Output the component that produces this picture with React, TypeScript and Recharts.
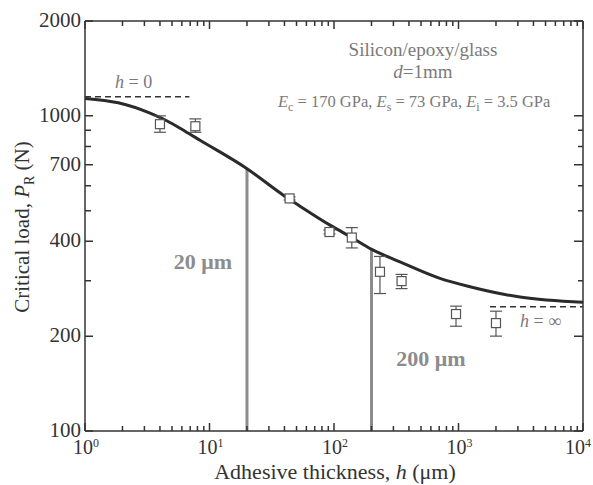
import React from 'react';
import {
  ComposedChart,
  Line,
  Scatter,
  ErrorBar,
  XAxis,
  YAxis,
  ReferenceLine,
} from 'recharts';

// thickness h (um) / critical load P (N)
const curveH = [1, 1.85, 3.33, 4.53, 6.36, 8.39, 19.9, 39.2, 53.3, 92.9, 139, 201, 339, 709, 1236, 3120, 10000];
const curveP = [1136, 1100, 1020, 965, 894, 837, 681, 560, 517, 450, 411, 377, 344, 305, 287, 266, 256];

const expH = [4.0, 7.7, 44, 92, 139, 234, 349, 955, 2000];
const expP = [941, 927, 547, 428, 411, 320, 299, 235, 220];
const expErrDown = [54, 40, 6, 6, 30, 47, 16, 20, 20];
const expErrUp = [59, 51, 6, 6, 31, 38, 15, 14, 20];

const xMajor = [1, 10, 100, 1000, 10000];
const xExponents = ['0', '1', '2', '3', '4'];
const yTicks = [100, 200, 300, 400, 500, 600, 700, 800, 900, 1000, 2000];
const yLabels = [100, 200, 400, 700, 1000, 2000];

const hZeroLine = { from: 1, to: 6.9, value: 1149 };
const hInfLine = { from: 1790, to: 10000, value: 248 };
const marks = [
  { h: 20, top: 681 },
  { h: 200, top: 377 },
];

const curveData = curveH.map((h, i) => ({ h, p: curveP[i] }));
const expData = expH.map((h, i) => ({ h, p: expP[i], err: [expErrDown[i], expErrUp[i]] }));
const xTicks = xMajor
  .slice(0, -1)
  .flatMap((d) => [2, 3, 4, 5, 6, 7, 8, 9].map((m) => d * m))
  .concat(xMajor)
  .sort((a, b) => a - b);

const W = 593;
const H = 485;
const PLOT = { left: 85, right: 583, top: 21, bottom: 431 };
const serif = '"Liberation Serif", "DejaVu Serif", serif';
const ink = '#333';
const soft = '#7a7a7a';

// bottom tick plus the mirrored one on the top edge
const renderXTick = (props: any) => {
  const { x, payload } = props;
  const idx = xMajor.indexOf(payload.value);
  const len = idx >= 0 ? 8 : 5;
  const last = idx === xMajor.length - 1;
  return (
    <g key={`xt-${payload.value}`}>
      <path d={`M${x},${PLOT.bottom}v${-len}M${x},${PLOT.top}v${len}`} stroke={ink} strokeWidth={1.5} fill="none" />
      {idx >= 0 && (
        <text
          x={last ? W - 2 : x + 1}
          y={PLOT.bottom + 23}
          textAnchor={last ? 'end' : 'middle'}
          fontFamily={serif}
          fontSize={20}
          fill={ink}
        >
          10<tspan dy={-7} fontSize={12}>{xExponents[idx]}</tspan>
        </text>
      )}
    </g>
  );
};

// left tick plus the mirrored one on the right edge
const renderYTick = (props: any) => {
  const { y, payload } = props;
  const labelled = yLabels.includes(payload.value);
  return (
    <g key={`yt-${payload.value}`}>
      <path
        d={`M${PLOT.left},${y}h${labelled ? 8 : 6}M${PLOT.right},${y}h${labelled ? -9 : -5}`}
        stroke={ink}
        strokeWidth={1.5}
        fill="none"
      />
      {labelled && (
        <text x={PLOT.left - 4} y={y + 6} textAnchor="end" fontFamily={serif} fontSize={21} fill={ink}>
          {payload.value}
        </text>
      )}
    </g>
  );
};

const Square = (props: any) => {
  const { cx, cy } = props;
  return <rect x={cx - 4.5} y={cy - 4.5} width={9} height={9} fill="#fff" stroke="#555" strokeWidth={1.2} />;
};

export default function App() {
  return (
    <div style={{ position: 'absolute', left: 0, top: 0, width: W, height: H, background: '#fff' }}>
      <ComposedChart
        width={W}
        height={H}
        margin={{ top: PLOT.top, right: W - PLOT.right, bottom: 0, left: 0 }}
      >
        <XAxis
          dataKey="h"
          type="number"
          scale="log"
          domain={[1, 10000]}
          ticks={xTicks}
          interval={0}
          tick={renderXTick}
          tickLine={false}
          height={H - PLOT.bottom}
          stroke={ink}
          strokeWidth={1.5}
          allowDataOverflow
        />
        <YAxis
          dataKey="p"
          type="number"
          scale="log"
          domain={[100, 2000]}
          ticks={yTicks}
          interval={0}
          tick={renderYTick}
          tickLine={false}
          width={PLOT.left}
          stroke={ink}
          strokeWidth={1.5}
          allowDataOverflow
        />
        {/* frame on the top and right edges */}
        <ReferenceLine y={2000} stroke={ink} strokeWidth={1.5} />
        <ReferenceLine x={10000} stroke={ink} strokeWidth={1.5} />
        {marks.map((m) => (
          <ReferenceLine
            key={m.h}
            segment={[{ x: m.h, y: 100 }, { x: m.h, y: m.top }]}
            stroke="#8c8c8c"
            strokeWidth={3}
          />
        ))}
        <ReferenceLine
          segment={[{ x: hZeroLine.from, y: hZeroLine.value }, { x: hZeroLine.to, y: hZeroLine.value }]}
          stroke={ink}
          strokeWidth={1.5}
          strokeDasharray="6 4"
        />
        <ReferenceLine
          segment={[{ x: hInfLine.from, y: hInfLine.value }, { x: hInfLine.to, y: hInfLine.value }]}
          stroke={ink}
          strokeWidth={1.5}
          strokeDasharray="6 4"
        />
        <Line
          data={curveData}
          dataKey="p"
          type="monotone"
          stroke="#2a2a2a"
          strokeWidth={3}
          dot={false}
          isAnimationActive={false}
        />
        <Scatter data={expData} dataKey="p" shape={<Square />} isAnimationActive={false}>
          <ErrorBar dataKey="err" direction="y" width={6} stroke="#555" strokeWidth={1.2} />
        </Scatter>
      </ComposedChart>
      <svg width={W} height={H} style={{ position: 'absolute', left: 0, top: 0, pointerEvents: 'none' }}>
        <g fontFamily={serif}>
          <text x={423} y={56} textAnchor="middle" fontSize={19} fill={soft}>Silicon/epoxy/glass</text>
          <text x={423} y={78} textAnchor="middle" fontSize={19} fill={soft}>
            <tspan fontStyle="italic">d</tspan>=1mm
          </text>
          <text x={278} y={107} fontSize={16.5} fill={soft}>
            <tspan fontStyle="italic">E</tspan>
            <tspan dy={4} fontSize={12}>c</tspan>
            <tspan dy={-4}> = 170 GPa, </tspan>
            <tspan fontStyle="italic">E</tspan>
            <tspan dy={4} fontSize={12}>s</tspan>
            <tspan dy={-4}> = 73 GPa, </tspan>
            <tspan fontStyle="italic">E</tspan>
            <tspan dy={4} fontSize={12}>i</tspan>
            <tspan dy={-4}> = 3.5 GPa</tspan>
          </text>
          <text x={115} y={88} fontSize={18} fill={soft}>
            <tspan fontStyle="italic">h</tspan> = 0
          </text>
          <text x={520} y={327} fontSize={18} fill={soft}>
            <tspan fontStyle="italic">h</tspan> = ∞
          </text>
          <text x={203} y={269} textAnchor="middle" fontSize={22} fontWeight="bold" fill="#8c8c8c">20 μm</text>
          <text x={431} y={366} textAnchor="middle" fontSize={22} fontWeight="bold" fill="#8c8c8c">200 μm</text>
          <text x={335} y={479} textAnchor="middle" fontSize={22} fill={ink}>
            Adhesive thickness, <tspan fontStyle="italic">h</tspan> (μm)
          </text>
          <text x={29} y={227} textAnchor="middle" fontSize={21} fill={ink} transform="rotate(-90 29 227)">
            Critical load, <tspan fontStyle="italic">P</tspan>
            <tspan dy={5} fontSize={14}>R</tspan>
            <tspan dy={-5}> (N)</tspan>
          </text>
        </g>
      </svg>
    </div>
  );
}
